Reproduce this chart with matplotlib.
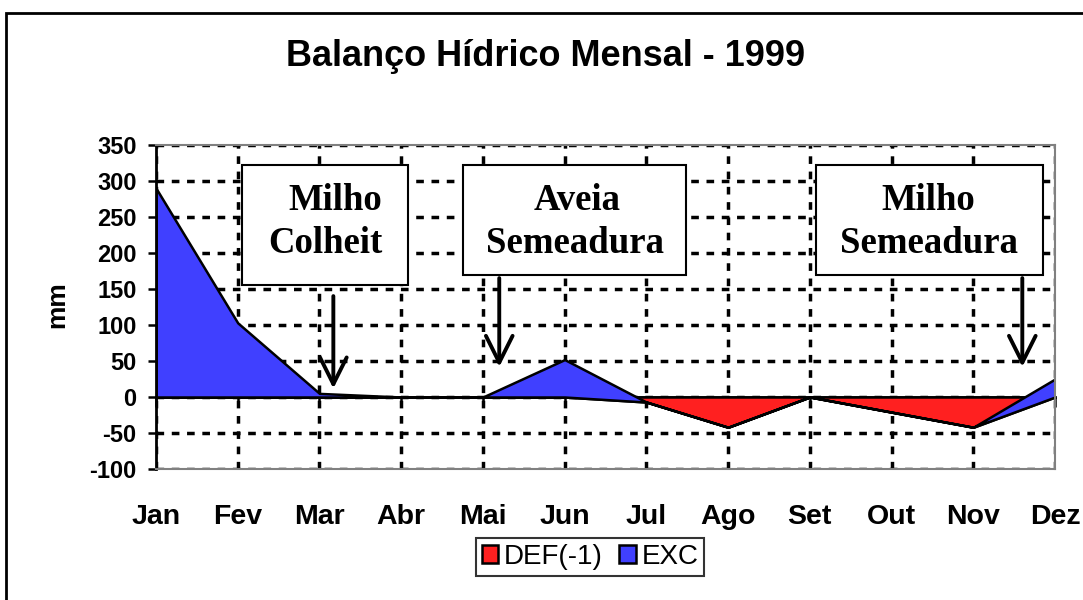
import matplotlib
matplotlib.use("Agg")
import matplotlib.pyplot as plt
from matplotlib.patches import Rectangle
import numpy as np

months = ["Jan", "Fev", "Mar", "Abr", "Mai", "Jun", "Jul", "Ago", "Set", "Out", "Nov", "Dez"]
DEF = [0, 0, 0, 0, 0, 0, -7, -42, 0, -21, -42, 0]
EXC = [290, 103, 5, 0, 0, 52, 0, 0, 0, 0, 0, 25]
yticks = [-100, -50, 0, 50, 100, 150, 200, 250, 300, 350]

plt.rcParams['font.family'] = ['Liberation Sans', 'DejaVu Sans']

W, H = 1083, 600
fig = plt.figure(figsize=(W / 100, H / 100), dpi=100)
L, R, T, B = 156, 1055, 145, 469
ax = fig.add_axes([L / W, 1 - B / H, (R - L) / W, (B - T) / H])

x = np.arange(len(months))
ax.stackplot(x, DEF, EXC, colors=['#FF2020', '#4040FF'],
             edgecolor='black', linewidth=1.8, labels=['DEF(-1)', 'EXC'], zorder=2)

ax.set_xlim(0, len(months) - 1)
ax.set_ylim(-100, 350)
ax.set_yticks(yticks)
ax.set_yticklabels([str(v) for v in yticks], fontsize=17, fontweight='bold')
ax.set_xticks(x)
ax.set_xticklabels(months, fontsize=20.5, fontweight='bold')
ax.tick_params(axis='x', length=0, pad=25)
ax.tick_params(axis='y', length=6, width=1.8, pad=8, direction='out')

ax.set_axisbelow(True)
ax.grid(True, color='black', linestyle=(0, (2.2, 2.2)), linewidth=2.5)

for s in ['top', 'right', 'bottom']:
    ax.spines[s].set_color('#808080')
    ax.spines[s].set_linewidth(1.5)
ax.spines['left'].set_color('black')
ax.spines['left'].set_linewidth(2)

# zero category axis with ticks
sec = ax.secondary_xaxis(100 / 450)
sec.set_xticks(x)
sec.set_xticklabels([])
sec.tick_params(axis='x', length=7, width=1.8, direction='out')
sec.spines['bottom'].set_linewidth(2)
sec.spines['bottom'].set_color('black')
sec.spines['top'].set_visible(False)

fig.text(57 / W, 1 - 305 / H, 'mm', rotation=90, ha='center', va='center',
         fontsize=19, fontweight='bold')

fig.text(546 / W, 1 - 57 / H, 'Balanço Hídrico Mensal - 1999', ha='center', va='center',
         fontsize=26, fontweight='bold')

# annotation boxes
def px2ax(px, py):
    return (px - L) / (R - L), (B - py) / (B - T)

boxes = [
    ((242, 165, 408, 285), ['Milho', 'Colheit'], [(335, 210), (325, 253)]),
    ((463, 165, 686, 275), ['Aveia', 'Semeadura'], [(577, 210), (575, 253)]),
    ((816, 165, 1043, 275), ['Milho', 'Semeadura'], [(928, 210), (929, 253)]),
]
for (x0, y0, x1, y1), lines, pos in boxes:
    ax0, ay1 = px2ax(x0, y0)
    ax1, ay0 = px2ax(x1, y1)
    ax.add_patch(Rectangle((ax0, ay0), ax1 - ax0, ay1 - ay0, transform=ax.transAxes,
                           facecolor='white', edgecolor='black', linewidth=1.5, zorder=5))
    for txt, (tx, ty) in zip(lines, pos):
        a, b = px2ax(tx, ty)
        ax.text(a, b, txt, transform=ax.transAxes, ha='center', va='baseline',
                fontsize=26.5, fontweight='bold', family=['Liberation Serif', 'DejaVu Serif'],
                zorder=6)

arrows = [(2.17, 144, 8), (4.2, 169, 38), (10.6, 169, 38)]
for ax_x, ys, ye in arrows:
    ax.annotate('', xy=(ax_x, ye), xytext=(ax_x, ys),
                arrowprops=dict(arrowstyle='->', lw=2.8, color='black',
                                mutation_scale=48), zorder=7)

leg = ax.legend(loc='center', bbox_to_anchor=(590 / W, 1 - 557 / H),
                bbox_transform=fig.transFigure, ncol=2, fontsize=20,
                frameon=True, fancybox=False, edgecolor='black',
                handlelength=0.6, handleheight=0.6, handletextpad=0.2,
                columnspacing=0.6, borderpad=0.2, borderaxespad=0)
leg.get_frame().set_linewidth(1.5)

# outer chart border
fig.patches.append(Rectangle((6 / W, -0.1), 1.2, 1 - 13 / H + 0.1, transform=fig.transFigure,
                             fill=False, edgecolor='black', linewidth=2))

fig.savefig('out.png', dpi=100)
